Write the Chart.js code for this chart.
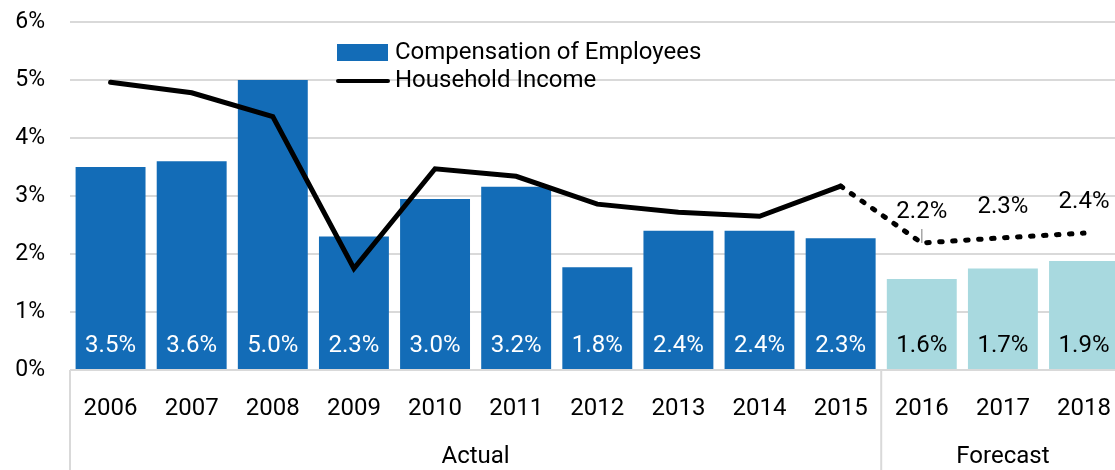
<!DOCTYPE html>
<html>
<head>
<meta charset="utf-8">
<script src="https://cdn.jsdelivr.net/npm/chart.js@4"></script>
<style>
  html, body { margin: 0; padding: 0; overflow: hidden; background: #fff; }
  #wrap { width: 1128px; height: 470px; }
</style>
</head>
<body>
<div id="wrap"><canvas id="chart"></canvas></div>
<script>
const years = ['2006', '2007', '2008', '2009', '2010', '2011', '2012', '2013', '2014', '2015', '2016', '2017', '2018'];
const compensation = [3.5, 3.6, 5.0, 2.3, 2.95, 3.16, 1.77, 2.4, 2.4, 2.27, 1.57, 1.75, 1.88];
const compensationLabels = ['3.5%', '3.6%', '5.0%', '2.3%', '3.0%', '3.2%', '1.8%', '2.4%', '2.4%', '2.3%', '1.6%', '1.7%', '1.9%'];
const householdIncome = [4.96, 4.78, 4.37, 1.75, 3.47, 3.34, 2.86, 2.72, 2.65, 3.17, 2.19, 2.28, 2.36];
const incomeLabels = [null, null, null, null, null, null, null, null, null, null, '2.2%', '2.3%', '2.4%'];
const yTicks = [0, 1, 2, 3, 4, 5, 6];
const groups = [
  { label: 'Actual', from: 0, to: 9 },
  { label: 'Forecast', from: 10, to: 12 }
];
const firstForecast = 10;

const BLUE = '#136cb7';
const LIGHT = '#a8d9df';
const GRID = '#d9d9d9';
const FONT = 'Roboto, "Noto Sans", sans-serif';

// labels inside bars, labels above forecast line, group labels, legend
const annotate = {
  id: 'annotate',
  afterDatasetsDraw(chart) {
    const { ctx, scales: { x, y } } = chart;
    ctx.save();
    ctx.font = '24px ' + FONT;
    ctx.textAlign = 'center';
    ctx.textBaseline = 'middle';
    compensationLabels.forEach((t, i) => {
      ctx.fillStyle = i >= firstForecast ? '#000' : '#fff';
      ctx.fillText(t, x.getPixelForValue(i), y.getPixelForValue(0) - 24);
    });
    incomeLabels.forEach((t, i) => {
      if (!t) return;
      const px = x.getPixelForValue(i);
      const py = y.getPixelForValue(householdIncome[i]);
      ctx.fillStyle = '#000';
      ctx.fillText(t, px, py - 31);
    });
    // small leader under the 2016 label
    const lx = x.getPixelForValue(firstForecast);
    ctx.strokeStyle = '#a6a6a6';
    ctx.lineWidth = 1.5;
    ctx.beginPath();
    ctx.moveTo(lx, y.getPixelForValue(householdIncome[firstForecast]) - 14);
    ctx.lineTo(lx, y.getPixelForValue(householdIncome[firstForecast]));
    ctx.stroke();
    ctx.restore();
  },
  afterDraw(chart) {
    const { ctx, scales: { x, y } } = chart;
    const base = y.getPixelForValue(0);
    const half = (x.getPixelForValue(1) - x.getPixelForValue(0)) / 2;
    ctx.save();
    // group separators
    ctx.strokeStyle = GRID;
    ctx.lineWidth = 2;
    groups.forEach(g => {
      const left = x.getPixelForValue(g.from) - half;
      ctx.beginPath();
      ctx.moveTo(left, base);
      ctx.lineTo(left, chart.height);
      ctx.stroke();
    });
    ctx.fillStyle = '#000';
    ctx.font = '24px ' + FONT;
    ctx.textAlign = 'center';
    ctx.textBaseline = 'middle';
    groups.forEach(g => {
      const cx = (x.getPixelForValue(g.from) + x.getPixelForValue(g.to)) / 2;
      ctx.fillText(g.label, cx, 457);
    });
    // legend
    const bars = chart.data.datasets.find(d => d.type === 'bar');
    const line = chart.data.datasets.find(d => d.type === 'line');
    ctx.textAlign = 'left';
    ctx.fillStyle = BLUE;
    ctx.fillRect(337, 44, 51, 17);
    ctx.fillStyle = '#000';
    ctx.fillText(bars.label, 395, 53);
    ctx.strokeStyle = '#000';
    ctx.lineWidth = 4;
    ctx.lineCap = 'round';
    ctx.beginPath();
    ctx.moveTo(338, 81);
    ctx.lineTo(388, 81);
    ctx.stroke();
    ctx.fillText(line.label, 395, 81);
    ctx.restore();
  }
};

new Chart(document.getElementById('chart'), {
  data: {
    labels: years,
    datasets: [
      {
        type: 'line',
        label: 'Household Income',
        data: householdIncome,
        borderColor: '#000',
        borderWidth: 5,
        borderCapStyle: 'round',
        borderJoinStyle: 'miter',
        pointRadius: 0,
        tension: 0,
        order: 0,
        segment: {
          borderDash: c => c.p0DataIndex >= firstForecast - 1 ? [2.5, 10.5] : undefined
        }
      },
      {
        type: 'bar',
        label: 'Compensation of Employees',
        data: compensation,
        backgroundColor: years.map((_, i) => i >= firstForecast ? LIGHT : BLUE),
        categoryPercentage: 1,
        barPercentage: 0.862,
        order: 1
      }
    ]
  },
  options: {
    responsive: true,
    maintainAspectRatio: false,
    animation: false,
    layout: { autoPadding: false, padding: { top: 22, right: 0, left: 0, bottom: 0 } },
    plugins: {
      legend: { display: false },
      tooltip: { enabled: false }
    },
    scales: {
      x: {
        grid: { display: false },
        border: { display: false },
        ticks: {
          color: '#000',
          font: { family: FONT, size: 24 },
          padding: 17,
          maxRotation: 0,
          autoSkip: false
        },
        afterFit: s => { s.height = 100; }
      },
      y: {
        min: 0,
        max: 6,
        afterBuildTicks: s => { s.ticks = yTicks.map(v => ({ value: v })); },
        grid: { color: GRID, lineWidth: 2, drawTicks: false },
        border: { display: false },
        ticks: {
          color: '#000',
          font: { family: FONT, size: 23 },
          padding: 25,
          callback: v => v + '%'
        },
        afterFit: s => {
          s.width = 70;
          s.paddingTop = 0;
          s.paddingBottom = 0;
        }
      }
    }
  },
  plugins: [annotate]
});
</script>
</body>
</html>
